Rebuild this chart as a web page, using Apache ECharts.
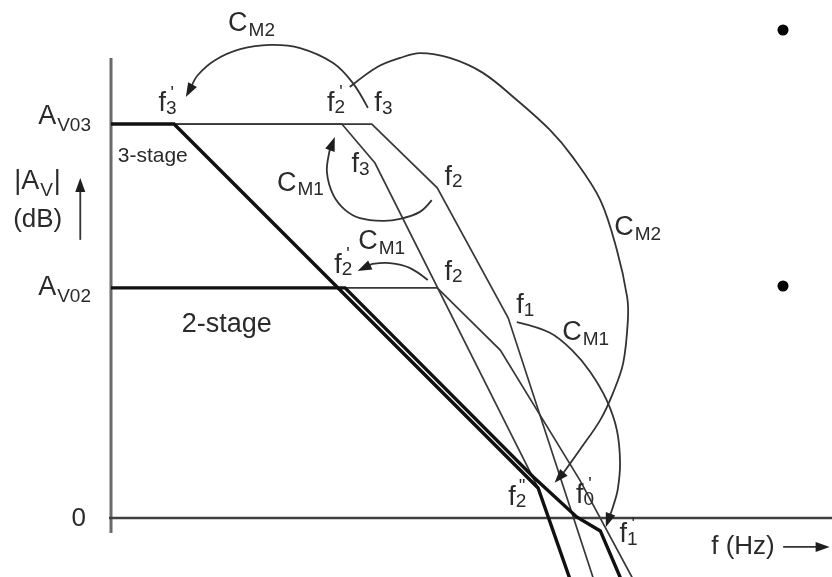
<!DOCTYPE html>
<html>
<head>
<meta charset="utf-8">
<script src="https://cdn.jsdelivr.net/npm/echarts@6/dist/echarts.min.js"></script>
<style>
  html, body { margin: 0; padding: 0; background: #fff; }
  #chart { width: 832px; height: 577px; }
</style>
</head>
<body>
<div id="chart"></div>
<script>
// Asymptotic Bode magnitude plots of 2- and 3-stage amplifiers with Miller compensation.
// x = log10(f / Hz) in decades, y = |Av| in dB (20 dB per decade slopes).

// ---- magnitude curves: [log10 f, dB] ----
const threeStageOpen   = [[0, 100], [3.31, 100], [4.14, 83.8], [5.04, 50.8], [6.21, -20.8]];
const threeStageCM1    = [[0, 100], [2.93, 100], [3.35, 90.1], [5.42, 7.6]];
const threeStageNested = [[0, 100], [0.80, 100], [5.42, 7.6], [5.92, -21]];
const twoStageOpen     = [[0, 58.4], [4.14, 58.4], [4.94, 42.6], [5.95, 9.6], [6.61, -15], [6.77, -21]];
const twoStageMiller   = [[0, 58.4], [2.97, 58.4], [5.36, 10.4], [5.91, 0.25], [6.21, -3.3], [6.46, -15], [6.59, -21]];

// ---- axes drawn as plain strokes ----
const gainAxis = [[0, 116.8], [0, -3.8]];
const freqAxis = [[-0.165, 0], [9.15, 0]];

// ---- pole-splitting arrows (last point = arrow tip) ----
const cm2ToF3 = [[3.26, 104.1], [3.07, 110.4], [2.82, 115.5], [2.40, 119.3], [2.02, 120.1], [1.64, 119.0], [1.32, 116.2], [1.10, 112.4], [0.95, 106.9]];
const cm2ToF0 = [[3.03, 109.4], [3.38, 114.5], [3.67, 116.8], [3.92, 118.0], [4.30, 116.8], [4.72, 113.0], [5.15, 106.1], [5.57, 98.5], [5.86, 91.6], [6.21, 80.7], [6.42, 68.0], [6.55, 56.1], [6.56, 50.3], [6.50, 39.3], [6.37, 31.7], [6.21, 24.9], [5.95, 17.3], [5.74, 11.4], [5.63, 8.9]];
const cm1ToF2Upper = [[4.07, 80.7], [3.92, 77.7], [3.67, 75.9], [3.45, 75.4], [3.16, 76.1], [2.97, 78.2], [2.82, 82.0], [2.74, 87.8], [2.77, 92.9], [2.84, 96.7]];
const cm1ToF2Lower = [[4.02, 60.4], [3.79, 63.5], [3.54, 64.7], [3.32, 64.5], [3.13, 62.7]];
const cm1ToF1 = [[5.15, 49.7], [5.57, 47.0], [5.85, 42.6], [6.08, 37.1], [6.29, 29.9], [6.42, 22.3], [6.46, 14.0], [6.43, 7.1], [6.37, 2.8], [6.28, -2.3]];
const gainArrow = [[-0.39, 70.6], [-0.39, 86.3]];
const freqArrow = [[8.53, -7.36], [9.12, -7.36]];
const arrowPaths = [cm2ToF3, cm2ToF0, cm1ToF2Upper, cm1ToF2Lower, cm1ToF1, gainArrow, freqArrow];

// ---- symbol labels: main letter, subscript, primes, trailing text, anchor ----
const noteMain  = ['C',  'f', 'f', 'f', 'C',  'f', 'f', 'C',  'C',  'f', 'f', 'f', 'C',  'f',  'f', 'f', 'A',   'A',   '|A'];
const noteSub   = ['M2', '3', '2', '3', 'M1', '3', '2', 'M2', 'M1', '2', '2', '1', 'M1', '2',  '0', '1', 'V03', 'V02', 'V'];
const notePrime = ['',   "'", "'", '',  '',   '',  '',  '',   '',   "'", '',  '',  '',   "''", "'", "'", '',    '',    ''];
const noteTail  = ['',   '',  '',  '',  '',   '',  '',  '',   '',   '',  '',  '',  '',   '',   '',  '',  '',    '',    '|'];
const noteLogF  = [1.61, 0.65, 2.79, 3.39, 2.23, 3.10, 4.28, 6.51, 3.26, 2.88, 4.28, 5.19, 5.85, 5.09, 5.95, 6.50, -0.81, -0.81, -1.07];
const noteDb    = [125.4, 105.1, 105.3, 105.1, 85.0, 89.6, 86.5, 73.6, 70.1, 64.2, 62.4, 53.8, 47.0, 5.3, 5.8, -4.3, 101.8, 58.4, 85.3];

// ---- plain text labels ----
const plainText = ['3-stage', '2-stage', '(dB)', '0', 'f (Hz)'];
const plainLogF = [0.53, 1.47, -0.93, -0.41, 8.02];
const plainDb   = [91.9, 49.2, 75.6, -0.25, -7.36];

const FONT = '"Liberation Sans", Arial, Helvetica, sans-serif';
const INK = '#2a2a2a';
const MAIN_SIZE = 27, SUB_SIZE = 19;
const plainSize = [21, 27, 26, 26, 26];

const measureCtx = document.createElement('canvas').getContext('2d');
function textWidth(t, size) {
  measureCtx.font = size + 'px ' + FONT;
  return measureCtx.measureText(t).width;
}

function renderArrow(params, api) {
  const path = arrowPaths[api.value(0)];
  const pts = path.map(p => api.coord(p));
  const n = pts.length;
  const tip = pts[n - 1], prev = pts[n - 2];
  let dx = tip[0] - prev[0], dy = tip[1] - prev[1];
  const len = Math.hypot(dx, dy) || 1;
  dx /= len; dy /= len;
  const L = 14, W = 5;
  const bx = tip[0] - dx * L, by = tip[1] - dy * L;
  const head = [tip, [bx - dy * W, by + dx * W], [bx + dy * W, by - dx * W]];
  const shaft = pts.slice(0, n - 1).concat([[bx + dx * 3, by + dy * 3]]);
  return {
    type: 'group',
    children: [
      { type: 'polyline', shape: { points: shaft, smooth: n > 2 ? 0.35 : 0 },
        style: { stroke: '#333', lineWidth: 1.8, fill: null } },
      { type: 'polygon', shape: { points: head }, style: { fill: '#1e1e1e' } }
    ]
  };
}

function renderNote(params, api) {
  const i = api.value(0);
  const c = api.coord([noteLogF[i], noteDb[i]]);
  const main = noteMain[i], sub = noteSub[i];
  const mw = textWidth(main, MAIN_SIZE), sw = textWidth(sub, SUB_SIZE);
  const subX = c[0] + mw / 2 + (main === 'f' ? 0 : 1);
  const drop = main === 'f' ? 5 : (main === 'C' ? 7 : 9);
  const kids = [
    { type: 'text', x: c[0], y: c[1],
      style: { text: main, fontSize: MAIN_SIZE, fontFamily: FONT, fill: INK, align: 'center', verticalAlign: 'middle' } },
    { type: 'text', x: subX, y: c[1] + drop,
      style: { text: sub, fontSize: SUB_SIZE, fontFamily: FONT, fill: INK, align: 'left', verticalAlign: 'middle' } }
  ];
  if (notePrime[i]) {
    kids.push({ type: 'text', x: subX + sw / 2 + 1, y: c[1] - 10,
      style: { text: notePrime[i], fontSize: 18, fontFamily: FONT, fill: INK, align: 'center', verticalAlign: 'middle' } });
  }
  if (noteTail[i]) {
    kids.push({ type: 'text', x: subX + sw + 1, y: c[1],
      style: { text: noteTail[i], fontSize: MAIN_SIZE, fontFamily: FONT, fill: INK, align: 'left', verticalAlign: 'middle' } });
  }
  return { type: 'group', children: kids };
}

function renderPlain(params, api) {
  const i = api.value(0);
  const c = api.coord([plainLogF[i], plainDb[i]]);
  return { type: 'text', x: c[0], y: c[1],
    style: { text: plainText[i], fontSize: plainSize[i], fontFamily: FONT, fill: INK, align: 'center', verticalAlign: 'middle' } };
}

function curve(name, data, width, color, z) {
  return { name, type: 'line', data, symbol: 'none', showSymbol: false, clip: true, z,
    lineStyle: { width, color, cap: 'butt', join: 'miter' }, emphasis: { disabled: true } };
}

const chart = echarts.init(document.getElementById('chart'), null, { renderer: 'canvas' });
chart.setOption({
  animation: false,
  backgroundColor: '#fff',
  grid: { left: 111, right: 0, top: 0, bottom: 0 },
  xAxis: { type: 'value', min: 0, max: 9.15, show: false },
  yAxis: { type: 'value', min: -15, max: 131.5, show: false },
  graphic: [
    { type: 'circle', shape: { cx: 783, cy: 30, r: 5.5 }, style: { fill: '#000' } },
    { type: 'circle', shape: { cx: 783, cy: 286, r: 5.5 }, style: { fill: '#000' } }
  ],
  series: [
    Object.assign(curve('gain axis', gainAxis, 3, '#6a6a6a', 1), { clip: false }),
    Object.assign(curve('frequency axis', freqAxis, 2.5, '#404040', 1), { clip: false }),
    curve('3-stage open loop', threeStageOpen, 1.7, '#383838', 2),
    curve('3-stage with CM1', threeStageCM1, 1.7, '#383838', 2),
    curve('2-stage open loop', twoStageOpen, 1.7, '#383838', 2),
    curve('3-stage nested Miller', threeStageNested, 3.4, '#111', 3),
    curve('2-stage Miller', twoStageMiller, 3.4, '#111', 3),
    { type: 'custom', name: 'arrows', coordinateSystem: 'cartesian2d', clip: false, z: 4,
      data: arrowPaths.map((_, i) => [i, 0]), renderItem: renderArrow, silent: true },
    { type: 'custom', name: 'symbols', coordinateSystem: 'cartesian2d', clip: false, z: 5,
      data: noteMain.map((_, i) => [i, 0]), renderItem: renderNote, silent: true },
    { type: 'custom', name: 'texts', coordinateSystem: 'cartesian2d', clip: false, z: 5,
      data: plainText.map((_, i) => [i, 0]), renderItem: renderPlain, silent: true }
  ]
});
</script>
</body>
</html>
